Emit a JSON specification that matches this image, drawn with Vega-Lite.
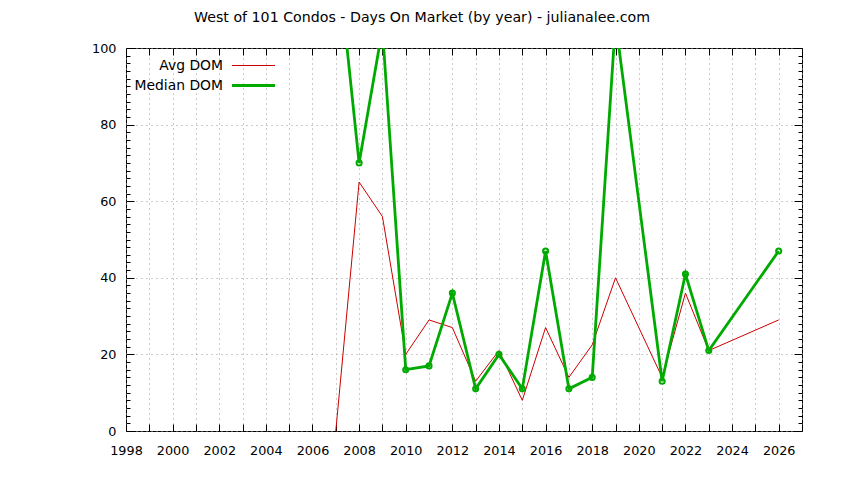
{
  "$schema": "https://vega.github.io/schema/vega-lite/v5.json",
  "width": 676,
  "height": 383,
  "autosize": "none",
  "padding": {"left": 126, "top": 48, "right": 42, "bottom": 49},
  "background": "white",
  "title": {
    "text": "West of 101 Condos - Days On Market (by year) - julianalee.com",
    "font": "DejaVu Sans",
    "fontSize": 14.2,
    "fontWeight": "normal",
    "color": "black",
    "anchor": "middle",
    "dx": -42,
    "offset": 17
  },
  "config": {
    "view": {"stroke": "black", "strokeWidth": 1},
    "axis": {
      "labelFont": "DejaVu Sans",
      "labelFontSize": 12.8,
      "labelColor": "black",
      "tickColor": "black",
      "domain": false,
      "gridColor": "#999999",
      "gridDash": [1, 4],
      "gridWidth": 1,
      "title": null
    }
  },
  "data": {
    "values": [
      {"year": 2007, "series": "Avg DOM", "dom": 0},
      {"year": 2008, "series": "Avg DOM", "dom": 65},
      {"year": 2009, "series": "Avg DOM", "dom": 56},
      {"year": 2010, "series": "Avg DOM", "dom": 20},
      {"year": 2011, "series": "Avg DOM", "dom": 29},
      {"year": 2012, "series": "Avg DOM", "dom": 27},
      {"year": 2013, "series": "Avg DOM", "dom": 13},
      {"year": 2014, "series": "Avg DOM", "dom": 21},
      {"year": 2015, "series": "Avg DOM", "dom": 8},
      {"year": 2016, "series": "Avg DOM", "dom": 27},
      {"year": 2017, "series": "Avg DOM", "dom": 14},
      {"year": 2018, "series": "Avg DOM", "dom": 22.5},
      {"year": 2019, "series": "Avg DOM", "dom": 40},
      {"year": 2021, "series": "Avg DOM", "dom": 14},
      {"year": 2022, "series": "Avg DOM", "dom": 36},
      {"year": 2023, "series": "Avg DOM", "dom": 21},
      {"year": 2026, "series": "Avg DOM", "dom": 29},
      {"year": 2007, "series": "Median DOM", "dom": 128},
      {"year": 2008, "series": "Median DOM", "dom": 70},
      {"year": 2009, "series": "Median DOM", "dom": 105},
      {"year": 2010, "series": "Median DOM", "dom": 16},
      {"year": 2011, "series": "Median DOM", "dom": 17},
      {"year": 2012, "series": "Median DOM", "dom": 36},
      {"year": 2013, "series": "Median DOM", "dom": 11},
      {"year": 2014, "series": "Median DOM", "dom": 20},
      {"year": 2015, "series": "Median DOM", "dom": 11},
      {"year": 2016, "series": "Median DOM", "dom": 47},
      {"year": 2017, "series": "Median DOM", "dom": 11},
      {"year": 2018, "series": "Median DOM", "dom": 14},
      {"year": 2019, "series": "Median DOM", "dom": 107},
      {"year": 2021, "series": "Median DOM", "dom": 13},
      {"year": 2022, "series": "Median DOM", "dom": 41},
      {"year": 2023, "series": "Median DOM", "dom": 21},
      {"year": 2026, "series": "Median DOM", "dom": 47}
    ]
  },
  "layer": [
    {
      "mark": {"type": "line", "clip": true},
      "encoding": {
        "x": {
          "field": "year", "type": "quantitative",
          "scale": {"domain": [1998, 2027], "nice": false, "zero": false},
          "axis": {
            "orient": "bottom",
            "values": [1998, 1999, 2000, 2001, 2002, 2003, 2004, 2005, 2006, 2007, 2008, 2009, 2010, 2011, 2012, 2013, 2014, 2015, 2016, 2017, 2018, 2019, 2020, 2021, 2022, 2023, 2024, 2025, 2026, 2027],
            "labelExpr": "datum.value % 2 === 0 ? datum.value : ''",
            "format": "d",
            "tickSize": -7,
            "labelPadding": 20,
            "labelFlush": false,
            "labelOverlap": false,
            "grid": true
          }
        },
        "y": {
          "field": "dom", "type": "quantitative",
          "scale": {"domain": [0, 100], "nice": false},
          "axis": {
            "orient": "left",
            "values": [0, 2, 4, 6, 8, 10, 12, 14, 16, 18, 20, 22, 24, 26, 28, 30, 32, 34, 36, 38, 40, 42, 44, 46, 48, 50, 52, 54, 56, 58, 60, 62, 64, 66, 68, 70, 72, 74, 76, 78, 80, 82, 84, 86, 88, 90, 92, 94, 96, 98, 100],
            "labelExpr": "datum.value % 20 === 0 ? datum.value : ''",
            "tickSize": {"condition": {"test": "datum.value % 20 === 0", "value": -8}, "value": -4},
            "gridOpacity": {"condition": {"test": "datum.value % 20 === 0", "value": 1}, "value": 0},
            "labelPadding": 18,
            "labelFlush": false,
            "labelOverlap": false,
            "grid": true
          }
        },
        "color": {
          "field": "series", "type": "nominal",
          "scale": {"domain": ["Avg DOM", "Median DOM"], "range": ["#cc0000", "#00aa00"]},
          "legend": {
            "orient": "none",
            "legendX": 115,
            "legendY": 6,
            "title": null,
            "symbolType": "M-2,0H2",
            "symbolSize": 462,
            "labelAlign": "right",
            "labelOffset": -43,
            "labelFont": "DejaVu Sans",
            "labelFontSize": 13.9,
            "labelColor": "black",
            "rowPadding": 0
          }
        },
        "strokeWidth": {
          "field": "series", "type": "ordinal",
          "scale": {"domain": ["Avg DOM", "Median DOM"], "range": [1, 2.8]}
        }
      }
    },
    {
      "transform": [{"filter": "datum.series === 'Median DOM'"}],
      "mark": {"type": "point", "clip": true, "filled": false, "color": "#00aa00", "strokeWidth": 2, "size": 26, "opacity": 1},
      "encoding": {
        "x": {
          "field": "year", "type": "quantitative",
          "axis": {
            "orient": "top",
            "values": [1998, 1999, 2000, 2001, 2002, 2003, 2004, 2005, 2006, 2007, 2008, 2009, 2010, 2011, 2012, 2013, 2014, 2015, 2016, 2017, 2018, 2019, 2020, 2021, 2022, 2023, 2024, 2025, 2026, 2027],
            "labels": false,
            "tickSize": -7,
            "grid": false
          }
        },
        "y": {
          "field": "dom", "type": "quantitative",
          "axis": {
            "orient": "right",
            "values": [0, 2, 4, 6, 8, 10, 12, 14, 16, 18, 20, 22, 24, 26, 28, 30, 32, 34, 36, 38, 40, 42, 44, 46, 48, 50, 52, 54, 56, 58, 60, 62, 64, 66, 68, 70, 72, 74, 76, 78, 80, 82, 84, 86, 88, 90, 92, 94, 96, 98, 100],
            "labels": false,
            "tickSize": {"condition": {"test": "datum.value % 20 === 0", "value": -8}, "value": -4},
            "grid": false
          }
        }
      }
    }
  ],
  "resolve": {"axis": {"x": "independent", "y": "independent"}}
}
